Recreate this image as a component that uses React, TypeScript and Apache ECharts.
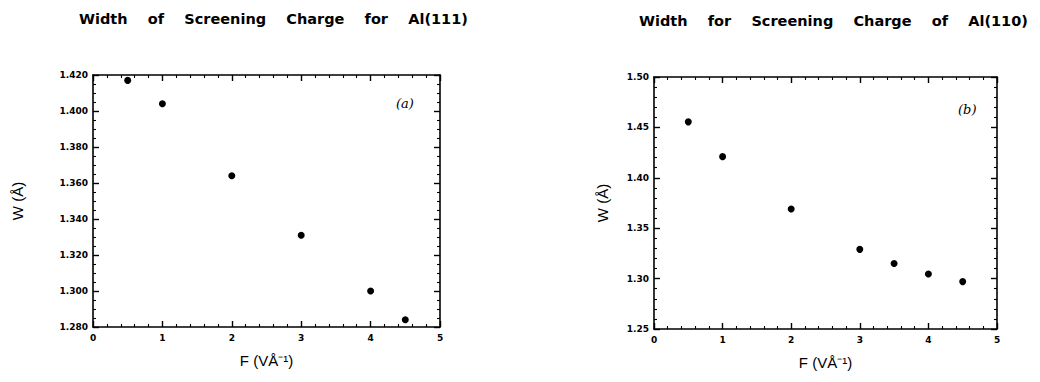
import React, { useEffect, useRef } from "react";
import * as echarts from "echarts";

const titleA = "Width    of    Screening    Charge    for    Al(111)";
const titleB = "Width    for    Screening    Charge    of    Al(110)";
const xName = "F (VÅ⁻¹)";
const yName = "W (Å)";

const fieldA = [0.5, 1, 2, 3, 4, 4.5];
const widthA = [1.417, 1.404, 1.364, 1.331, 1.3, 1.284];
const fieldB = [0.5, 1, 2, 3, 3.5, 4, 4.5];
const widthB = [1.4555, 1.421, 1.369, 1.329, 1.315, 1.3045, 1.297];

const BOLD = "'DejaVu Sans', sans-serif";
const FONT = "'Liberation Sans', Arial, sans-serif";

export default function App() {
  const ref = useRef<HTMLDivElement>(null);
  useEffect(() => {
    if (!ref.current) return;
    const chart = echarts.init(ref.current, undefined, { renderer: "svg" });
    const axisLine = { show: true, onZero: false, lineStyle: { color: "#000", width: 1.6 } };
    const tick = { show: true, inside: true, length: 6, lineStyle: { color: "#000", width: 1.4 } };
    const minor = (n: number) => ({ show: true, splitNumber: n, length: 3, lineStyle: { color: "#000", width: 1.1 } });
    const xAxisFor = (gi: number, pos: "bottom" | "top") => ({
      type: "value",
      gridIndex: gi,
      position: pos,
      min: 0,
      max: 5,
      interval: 1,
      axisLine,
      axisTick: tick,
      minorTick: minor(5),
      splitLine: { show: false },
      axisLabel: pos === "bottom"
        ? { show: true, color: "#000", fontFamily: BOLD, fontWeight: "bold", fontSize: 9, margin: 6 }
        : { show: false },
      name: pos === "bottom" ? xName : "",
      nameLocation: "middle",
      nameGap: 26,
      nameTextStyle: { color: "#000", fontFamily: FONT, fontSize: 15 },
    });
    const yAxisFor = (gi: number, pos: "left" | "right", min: number, max: number, interval: number, dec: number, n: number, gap: number) => ({
      type: "value",
      gridIndex: gi,
      position: pos,
      min,
      max,
      interval,
      axisLine,
      axisTick: tick,
      minorTick: minor(n),
      splitLine: { show: false },
      axisLabel: pos === "left"
        ? { show: true, color: "#000", fontFamily: BOLD, fontWeight: "bold", fontSize: 9, margin: 5, formatter: (v: number) => v.toFixed(dec) }
        : { show: false },
      name: pos === "left" ? yName : "",
      nameLocation: "middle",
      nameGap: gap,
      nameRotate: 90,
      nameTextStyle: { color: "#000", fontFamily: FONT, fontSize: 15 },
    });
    const dot = { color: "#000", opacity: 1 };
    chart.setOption({
      animation: false,
      backgroundColor: "#fff",
      title: [
        { text: titleA, left: 74, top: 6, textStyle: { fontFamily: BOLD, fontWeight: "bold", fontSize: 14.5, color: "#000" } },
        { text: titleB, left: 634, top: 8, textStyle: { fontFamily: BOLD, fontWeight: "bold", fontSize: 14.5, color: "#000" } },
      ],
      grid: [
        { left: 93, top: 75, width: 347, height: 252 },
        { left: 654, top: 77, width: 343, height: 252 },
      ],
      xAxis: [xAxisFor(0, "bottom"), xAxisFor(0, "top"), xAxisFor(1, "bottom"), xAxisFor(1, "top")],
      yAxis: [
        yAxisFor(0, "left", 1.28, 1.42, 0.02, 3, 4, 68),
        yAxisFor(0, "right", 1.28, 1.42, 0.02, 3, 4, 0),
        yAxisFor(1, "left", 1.25, 1.5, 0.05, 2, 5, 44),
        yAxisFor(1, "right", 1.25, 1.5, 0.05, 2, 5, 0),
      ],
      graphic: [
        { type: "text", left: 396, top: 97, style: { text: "(a)", font: "italic 13px 'DejaVu Serif', serif", fill: "#000" } },
        { type: "text", left: 958, top: 103, style: { text: "(b)", font: "italic 13px 'DejaVu Serif', serif", fill: "#000" } },
      ],
      series: [
        {
          type: "scatter",
          xAxisIndex: 0,
          yAxisIndex: 0,
          symbolSize: 7,
          itemStyle: dot,
          data: fieldA.map((f, i) => [f, widthA[i]]),
        },
        {
          type: "scatter",
          xAxisIndex: 2,
          yAxisIndex: 2,
          symbolSize: 7,
          itemStyle: dot,
          data: fieldB.map((f, i) => [f, widthB[i]]),
        },
      ],
    });
    return () => chart.dispose();
  }, []);
  return <div ref={ref} style={{ position: "fixed", left: 0, top: 0, width: 1040, height: 382 }} />;
}
